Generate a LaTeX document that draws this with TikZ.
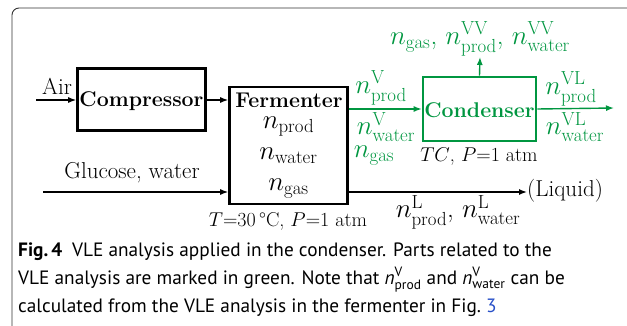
\RequirePackage{fix-cm}
\documentclass[tikz,border=0pt]{standalone}
\usepackage{amsmath}
\usepackage{fontspec}
\usetikzlibrary{arrows.meta}
\newfontfamily\capfont{PT Sans}
\definecolor{vgreen}{RGB}{0,150,64}
\definecolor{linkblue}{RGB}{40,80,200}
\tikzset{
  box/.style={draw, line width=2.6pt, inner sep=0pt},
  flow/.style={line width=1.4pt, -{Latex[length=8pt,width=6pt]}},
  lbl/.style={inner sep=0pt, font=\fontsize{23}{26}\selectfont},
  cnd/.style={inner sep=0pt, font=\fontsize{20}{24}\selectfont},
  mlbl/.style={inner sep=0pt, font=\fontsize{27}{30}\selectfont},
  bold/.style={inner sep=0pt, font=\fontsize{21.3}{24}\selectfont\bfseries},
  caplbl/.style={anchor=base west, inner sep=0pt, font=\capfont\fontsize{19.3}{24}\selectfont},
}
\begin{document}
\begin{tikzpicture}[x=1pt,y=-1pt]
\useasboundingbox (0,0) rectangle (627,326);
% frame
\draw[line width=0.9pt, black!80, rounded corners=7pt] (627,8) -- (12,8) -- (12,333) -- (30,333);
% boxes
\node[box, minimum width=128pt, minimum height=62pt] (comp) at (141.5,99.5) {};
\node[bold] (compt) at (141.5,101) {Compressor};
\node[box, minimum width=118pt, minimum height=117pt] (ferm) at (288.5,145.5) {};
\node[bold] (fermt) at (289,100.5) {Fermenter};
\node[mlbl] (fp) at (288.5,127) {$n_{\text{prod}}$};
\node[mlbl] (fw) at (288.5,156) {$n_{\text{water}}$};
\node[mlbl] (fg) at (288.5,189) {$n_{\text{gas}}$};
\node[box, draw=vgreen, minimum width=113pt, minimum height=64pt] (cond) at (479.5,109) {};
\node[bold, text=vgreen] (condt) at (479.5,110) {Condenser};
% coordinates
\coordinate (air) at (36,100);
\coordinate (glu) at (43,192);
\coordinate (vv) at (480,57);
\coordinate (vl) at (614,108);
% labels
\node[lbl] (airt) at (57,86) {Air};
\node[lbl] (glut) at (132,173) {Glucose, water};
\node[cnd] (fermc) at (288,221) {$T$=30\,°C, $P$=1 atm};
\node[cnd] (condc) at (479,157) {$TC$, $P$=1 atm};
\node[lbl, anchor=west] (liq) at (527,191) {(Liquid)};
\node[mlbl] (ll) at (458,212) {$n^{\text{L}}_{\text{prod}}$, $n^{\text{L}}_{\text{water}}$};
\begin{scope}[text=vgreen]
\node[mlbl] (vp) at (381,88) {$n^{\text{V}}_{\text{prod}}$};
\node[mlbl] (vw) at (386,127) {$n^{\text{V}}_{\text{water}}$};
\node[mlbl] (vg) at (374,156) {$n_{\text{gas}}$};
\node[mlbl] (vvt) at (480,39) {$n_{\text{gas}}$, $n^{\text{VV}}_{\text{prod}}$, $n^{\text{VV}}_{\text{water}}$};
\node[mlbl] (vlp) at (571,89) {$n^{\text{VL}}_{\text{prod}}$};
\node[mlbl] (vlw) at (575,127) {$n^{\text{VL}}_{\text{water}}$};
\end{scope}
% connectors
\draw[flow] (air) -- (air -| comp.west);
\draw[flow] (comp.east |- air) -- (ferm.west |- air);
\draw[flow] (glu) -- (ferm.west |- glu);
\draw[flow] (ferm.east |- glu) -- (liq.west |- glu);
\draw[flow, vgreen] (ferm.east |- cond.center) -- (cond.west);
\draw[flow, vgreen] (cond.north) -- (vv);
\draw[flow, vgreen] (cond.east) -- (vl);
% caption
\node[caplbl] (c1) at (18,256) {\textbf{Fig.\,4}\hspace{0.5em}VLE analysis applied in the condenser. Parts related to the};
\node[caplbl] (c2) at (18,284) {VLE analysis are marked in green. Note that \textit{n}$^{\text{V}}_{\text{prod}}$ and \textit{n}$^{\text{V}}_{\text{water}}$ can be};
\node[caplbl] (c3) at (18,312) {calculated from the VLE analysis in the fermenter in Fig.\ \textcolor{linkblue}{3}};
\end{tikzpicture}
\end{document}
